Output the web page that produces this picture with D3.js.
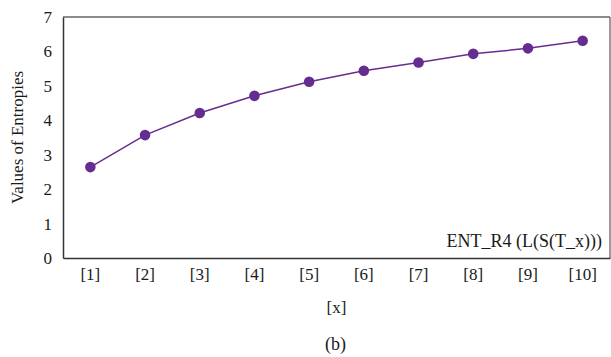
<!DOCTYPE html>
<html><head><meta charset="utf-8">
<script src="https://cdn.jsdelivr.net/npm/d3@7"></script>
<style>body{margin:0;background:#fff}svg{display:block}</style>
</head><body>
<svg id="c" width="611" height="357"></svg>
<script>
const categories = ["[1]","[2]","[3]","[4]","[5]","[6]","[7]","[8]","[9]","[10]"];
const values = [2.64, 3.57, 4.21, 4.71, 5.12, 5.44, 5.68, 5.93, 6.09, 6.31];
const yTicks = [0,1,2,3,4,5,6,7];
const seriesName = "ENT_R4 (L(S(T_x)))";

const FONT = "'Liberation Serif', 'DejaVu Serif', serif";
const svg = d3.select("#c");
const L = 63, R = 610, T = 17, B = 258;
const x = d3.scaleBand().domain(categories).range([L, R]);
const y = d3.scaleLinear().domain([0, 7]).range([B, T]);
const color = "#662d91";

svg.append("line").attr("x1",L).attr("x2",R).attr("y1",T).attr("y2",T).attr("stroke","#666").attr("stroke-width",1.3);
svg.append("line").attr("x1",R).attr("x2",R).attr("y1",T).attr("y2",B).attr("stroke","#666").attr("stroke-width",1.3);

const yAxis = svg.append("g").attr("transform",`translate(${L},0)`)
  .call(d3.axisLeft(y).tickValues(yTicks).tickSize(0).tickPadding(11).tickFormat(d3.format("d")));
yAxis.attr("font-family", null).attr("font-size", null);
yAxis.select(".domain").attr("stroke","#333").attr("stroke-width",1.5);
yAxis.selectAll("text").style("font-family",FONT).style("font-size","17px").style("fill","#1a1a1a");

const xAxis = svg.append("g").attr("transform",`translate(0,${B})`)
  .call(d3.axisBottom(x).tickSize(0).tickPadding(10));
xAxis.attr("font-family", null).attr("font-size", null);
xAxis.select(".domain").attr("stroke","#333").attr("stroke-width",1.5);
xAxis.selectAll("text").style("font-family",FONT).style("font-size","17px").style("fill","#1a1a1a");

const line = d3.line().x((d,i)=>x(categories[i])+x.bandwidth()/2).y(d=>y(d));
svg.append("path").datum(values).attr("d",line).attr("fill","none").attr("stroke",color).attr("stroke-width",1.5);
svg.selectAll("circle.pt").data(values).enter().append("circle")
  .attr("cx",(d,i)=>x(categories[i])+x.bandwidth()/2).attr("cy",d=>y(d)).attr("r",5.3).attr("fill",color);

function label(t){ return t.style("font-family",FONT).style("fill","#1a1a1a"); }
label(svg.append("text").attr("x",602).attr("y",247).attr("text-anchor","end").style("font-size","18px").text(seriesName));
label(svg.append("text").attr("transform",`translate(23,${(T+B)/2}) rotate(-90)`).attr("text-anchor","middle").style("font-size","17px").text("Values of Entropies"));
label(svg.append("text").attr("x",(L+R)/2).attr("y",313).attr("text-anchor","middle").style("font-size","17px").text("[x]"));
label(svg.append("text").attr("x",(L+R)/2 - 1).attr("y",350).attr("text-anchor","middle").style("font-size","18px").text("(b)"));
</script>
</body></html>
